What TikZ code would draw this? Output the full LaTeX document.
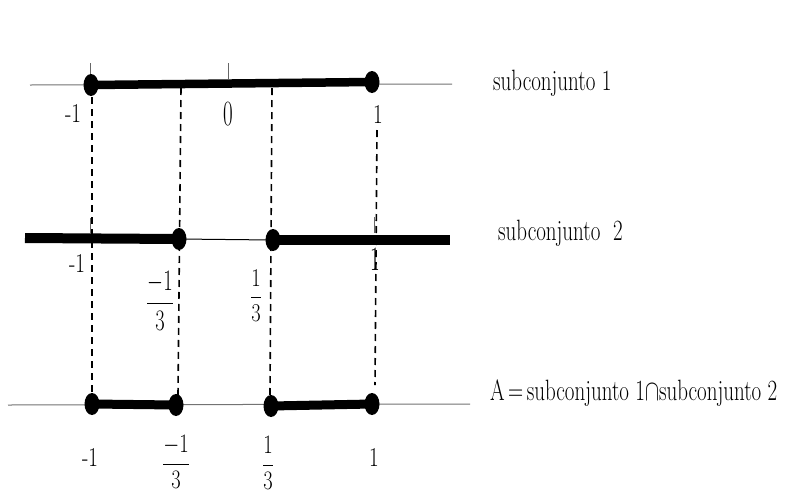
\RequirePackage{fix-cm}
\documentclass[tikz,border=0pt]{standalone}
\usetikzlibrary{shapes.geometric}
\tikzset{
  axisline/.style={draw=black!55, line width=1pt},
  tickline/.style={draw=black!60, line width=1pt},
  dotnode/.style={ellipse, fill=black, draw=none, inner sep=0pt, minimum width=15pt, minimum height=22pt},
  seg/.style={line width=#1, line cap=round},
  vdash/.style={draw=black, line width=1.6pt, dash pattern=on 7pt off 5pt},
  lbl/.style={font=\fontsize{21}{24}\selectfont, inner sep=0pt, yscale=1.3},
  frac/.style={font=\fontsize{20.5}{24}\selectfont, inner sep=0pt},
  rowtext/.style={font=\fontsize{21}{24}\selectfont, inner sep=0pt, yscale=1.4, anchor=base west}
}
\begin{document}
\begin{tikzpicture}[x=1pt,y=-1pt]
\useasboundingbox[fill=white] (0,0) rectangle (787,496);

% ---------- row 1 ----------
\coordinate (a1L) at (30,85);
\coordinate (a1R) at (452,84);
\draw[axisline] (a1L) -- (a1R);
\coordinate (t1a) at (90,63); \coordinate (t1b) at (90,85);
\coordinate (t0a) at (228,63); \coordinate (t0b) at (228,79);
\draw[tickline] (t1a) -- (t1b);
\draw[tickline] (t0a) -- (t0b);
\node[dotnode] (d11) at (91,85) {};
\node[dotnode] (d12) at (372,82) {};
\draw[seg=8.5pt] (d11.center) -- (d12.center);
\node[lbl] (l11) at (73,113) {-1};
\node[lbl, yscale=1.3] (l10) at (228,114) {0};
\node[lbl] (l12) at (378,114) {1};
\node[rowtext] (txt1) at (493,90) {subconjunto 1};

% ---------- row 2 ----------
\coordinate (b2L) at (25,238);
\coordinate (b2R) at (450,240);
\node[dotnode] (d21) at (179,239) {};
\node[dotnode] (d22) at (273,240) {};
\draw[line width=10pt] (b2L) -- (d21.center);
\draw[black, line width=1pt] (d21.center) -- (d22.center);
\draw[line width=10pt] (d22.center) -- (b2R);
\coordinate (t2a) at (90,218); \coordinate (t2b) at (90,233);
\coordinate (t3a) at (374,217); \coordinate (t3b) at (374,233);
\draw[tickline] (t2a) -- (t2b);
\draw[tickline] (t3a) -- (t3b);
\node[lbl] (l21) at (77,263) {-1};
\node[frac, yscale=1.45] (l22) at (160,301) {$\displaystyle\frac{-1}{3}$};
\node[frac, yscale=1.25] (l23) at (256,296) {$\displaystyle\frac{1}{3}$};
\node[lbl, yscale=1.25] (l24) at (375,259) {1};
\node[rowtext] (txt2) at (498,240) {subconjunto\ \ 2};

% ---------- row 3 ----------
\coordinate (a3L) at (8,405);
\coordinate (a3R) at (470,404);
\draw[axisline] (a3L) -- (a3R);
\node[dotnode] (d31) at (92,404) {};
\node[dotnode] (d32) at (176,405) {};
\node[dotnode] (d33) at (271,406) {};
\node[dotnode] (d34) at (372,404) {};
\draw[seg=9pt] (d31.center) -- (d32.center);
\draw[seg=9pt] (d33.center) -- (d34.center);
\node[lbl] (l31) at (90,457) {-1};
\node[frac, yscale=1.3] (l32) at (176,462) {$\displaystyle\frac{-1}{3}$};
\node[frac, yscale=1.3] (l33) at (268,463) {$\displaystyle\frac{1}{3}$};
\node[lbl] (l34) at (374,457) {1};
\node[rowtext] (txt3) at (490,400) {A\,=\,subconjunto 1$\cap$subconjunto 2};

% ---------- dashed verticals ----------
\coordinate (v1t) at (92,97);  \coordinate (v1b) at (92,395);
\coordinate (v2t) at (181,88); \coordinate (v2b) at (178,395);
\coordinate (v3t) at (272,88); \coordinate (v3b) at (270,395);
\coordinate (v4t) at (377,130); \coordinate (v4b) at (375,385);
\draw[vdash] (v1t) -- (v1b);
\draw[vdash] (v2t) -- (v2b);
\draw[vdash] (v3t) -- (v3b);
\draw[vdash] (v4t) -- (v4b);
\end{tikzpicture}
\end{document}
